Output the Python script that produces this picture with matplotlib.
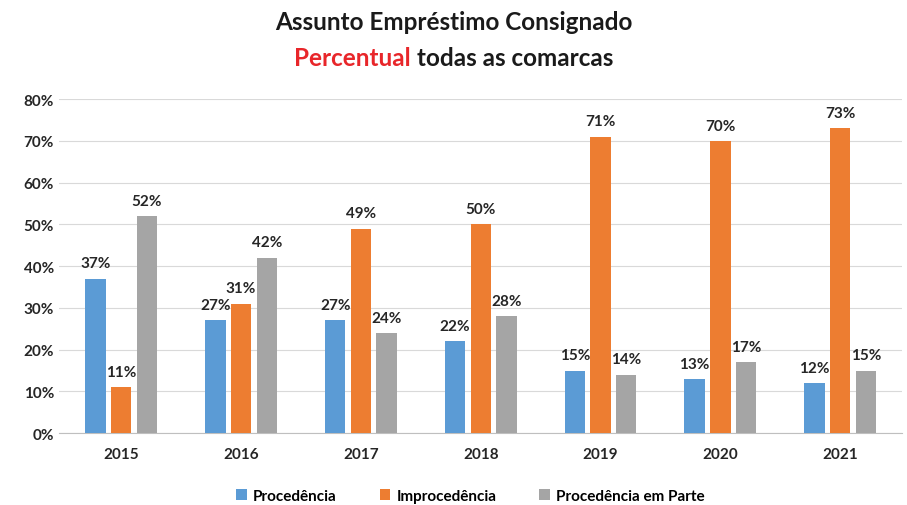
import numpy as np
import matplotlib.pyplot as plt

plt.rcParams['font.family'] = ['Lato', 'DejaVu Sans']

# Data
years = ['2015', '2016', '2017', '2018', '2019', '2020', '2021']
procedencia = [37, 27, 27, 22, 15, 13, 12]
improcedencia = [11, 31, 49, 50, 71, 70, 73]
parte = [52, 42, 24, 28, 14, 17, 15]

series = [
    ('Procedência', procedencia, '#5B9BD5'),
    ('Improcedência', improcedencia, '#ED7D31'),
    ('Procedência em Parte', parte, '#A5A5A5'),
]

fig = plt.figure(figsize=(9.07, 5.06), dpi=100)
ax = fig.add_axes([0.065, 0.142, 0.93, 0.66])

x = np.arange(len(years))
width = 0.17
offset = 0.215

for i, (name, vals, color) in enumerate(series):
    pos = x + (i - 1) * offset
    ax.bar(pos, vals, width, color=color, label=name, zorder=3)
    for p, v in zip(pos, vals):
        ax.text(p, v + 2, f'{v}%', ha='center', va='bottom',
                fontsize=11, fontweight='bold', color='#262626')

ax.set_xlim(-0.52, 6.52)
ax.set_ylim(0, 80)
ax.set_yticks(range(0, 81, 10))
ax.set_yticklabels([f'{t}%' for t in range(0, 81, 10)])
ax.set_xticks(x)
ax.set_xticklabels(years)
ax.tick_params(axis='both', length=0, labelsize=11, colors='#262626')
for lbl in ax.get_xticklabels() + ax.get_yticklabels():
    lbl.set_fontweight('bold')
ax.tick_params(axis='x', pad=10)

ax.grid(axis='y', color='#D9D9D9', linewidth=0.8, zorder=0)
for s in ['top', 'right', 'left']:
    ax.spines[s].set_visible(False)
ax.spines['bottom'].set_color('#BFBFBF')

# Title in two lines, first word of second line in red
fig.text(0.5, 0.955, 'Assunto Empréstimo Consignado', ha='center', va='center',
         fontsize=17.5, fontweight='bold', color='#1a1a1a')
fig.text(0.5, 0.885, 'Percentual ', ha='right', va='center',
         fontsize=17.5, fontweight='bold', color='#E8262A')
fig.text(0.5, 0.885, 'todas as comarcas', ha='left', va='center',
         fontsize=17.5, fontweight='bold', color='#1a1a1a')
# shift so the whole second line is centred
fig.canvas.draw()
r = fig.canvas.get_renderer()
children = fig.texts[1:]
w1 = children[0].get_window_extent(r).width
w2 = children[1].get_window_extent(r).width
shift = (w1 - w2) / 2 / fig.bbox.width
for t in children:
    t.set_x(0.5 + shift)

ax.legend(loc='upper center', bbox_to_anchor=(0.488, -0.125), ncol=3, frameon=False,
          prop={'weight': 'bold', 'size': 11}, handlelength=0.7, handleheight=0.7,
          columnspacing=2.8, handletextpad=0.4)

fig.savefig('out.png', dpi=100)
